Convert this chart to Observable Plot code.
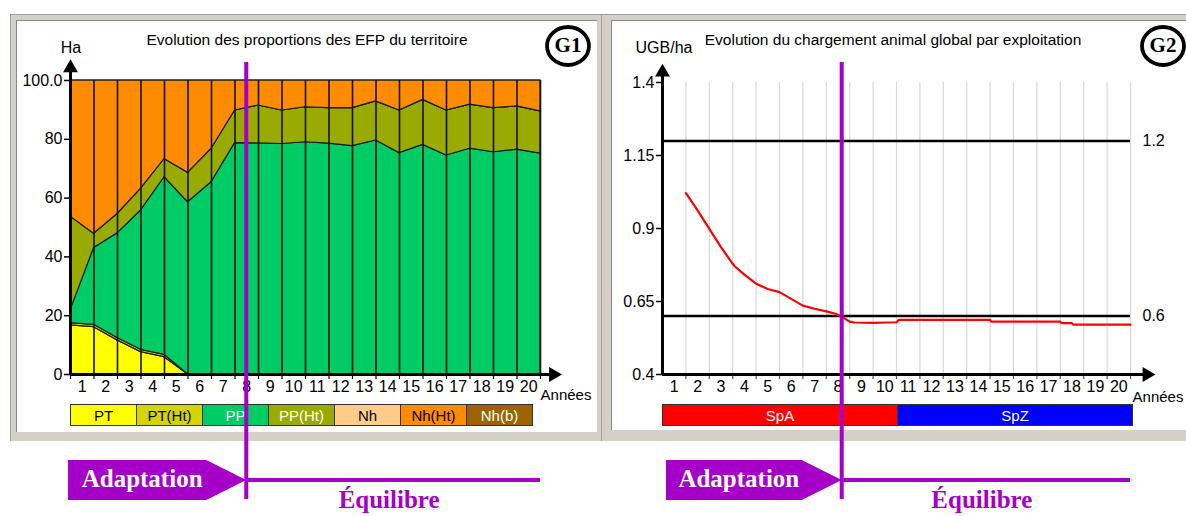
<!DOCTYPE html>
<html>
<head>
<meta charset="utf-8">
<script src="https://cdn.jsdelivr.net/npm/d3@7"></script>
<script src="https://cdn.jsdelivr.net/npm/@observablehq/plot@0.6"></script>
<style>
  body { margin: 0; background: #fff; font-family: "Liberation Sans", Arial, sans-serif; }
  #root { position: relative; width: 1186px; height: 516px; overflow: hidden; background: #fff; }
  .abs { position: absolute; }
  .frame { background: #d4d0c8; border-top: 1px solid #a0a0a0; border-left: 1px solid #a0a0a0; box-sizing: border-box; }
  .inner { background: #fff; border-top: 1px solid #888; border-left: 1px solid #888; box-sizing: border-box; }
  .lbl { position: absolute; white-space: nowrap; color: #000; transform: translate(-50%, -50%); }
  .leg { position: absolute; box-sizing: border-box; border: 1px solid #333; display: flex; align-items: center; justify-content: center; font-size: 15px; }
</style>
</head>
<body>
<div id="root"></div>
<script>
// ---------------- data ----------------
const steps = [0,1,2,3,4,5,6,7,8,9,10,11,12,13,14,15,16,17,18,19,20];
const yearLabels = [1,2,3,4,5,6,7,8,9,10,11,12,13,14,15,16,17,18,19,20];

// G1 : EFP proportions (Ha), one value per year boundary
const categories = ["PT","PT(Ht)","PP","PP(Ht)","Nh","Nh(Ht)","Nh(b)"];
const catColors  = ["#ffff00","#d4d400","#00cc66","#99aa00","#ffcc8a","#ff8c00","#9c6400"];
const catText    = ["#000","#000","#fff","#fff","#000","#000","#fff"];
const PT    = [16.7,16.1,11.6,7.6,5.9,0,0,0,0,0,0,0,0,0,0,0,0,0,0,0,0];
const PT_Ht = [0.8,0.8,0.8,0.8,0.8,0,0,0,0,0,0,0,0,0,0,0,0,0,0,0,0];
const PP    = [4.3,26.1,35.6,47.4,60.4,58.6,65.4,78.7,78.6,78.4,79.0,78.5,77.7,79.6,75.3,78.1,74.5,76.8,75.6,76.5,75.1];
const PP_Ht = [31.9,4.9,6.6,7.4,6.2,10.0,11.4,11.1,12.9,11.4,11.9,12.1,12.9,13.3,14.5,15.3,15.3,15.0,15.0,14.7,14.4];
const Nh    = [0,0,0,0,0,0,0,0,0,0,0,0,0,0,0,0,0,0,0,0,0];
const Nh_Ht = [46.3,52.1,45.4,36.8,26.7,31.4,23.2,10.2,8.5,10.2,9.1,9.4,9.4,7.1,10.2,6.6,10.2,8.2,9.4,8.8,10.5];
const Nh_b  = [0,0,0,0,0,0,0,0,0,0,0,0,0,0,0,0,0,0,0,0,0];
const yTicksG1 = [0,20,40,60,80,100];

// G2 : stocking rate (UGB/ha)
const chargeYears  = [1,1.5,2,2.5,3,3.1,3.5,4,4.5,5,5.5,6,6.5,7,7.4,7.7,8,8.2,9,9.6,10,10.1,14,14.05,17,17.05,17.5,17.55,20];
const chargeValues = [1.021,0.962,0.899,0.836,0.779,0.770,0.742,0.711,0.693,0.682,0.659,0.636,0.625,0.616,0.608,0.596,0.581,0.578,0.577,0.578,0.579,0.587,0.587,0.581,0.581,0.576,0.576,0.571,0.571];
const gridYears = [1,2,3,4,5,6,7,8,9,10,11,12,13,14,15,16,17,18,19,20];
const refLevels = [1.2, 0.6];
const yTicksG2 = [0.4,0.65,0.9,1.15,1.4];
const speciesNames  = ["SpA","SpZ"];
const speciesColors = ["#ff0000","#0000ff"];
const speciesFrom   = [0, 10.04];
const speciesTo     = [10.04, 20.1];

// phases
const phaseBoundaryG1 = 7.5;
const phaseBoundaryG2 = 7.68;
const phaseNames = ["Adaptation","Équilibre"];

// ---------------- layout ----------------
const root = document.getElementById("root");
function add(tag, cls, css, html) {
  const e = document.createElement(tag);
  if (cls) e.className = cls;
  Object.assign(e.style, css);
  if (html != null) e.textContent = html;
  root.appendChild(e);
  return e;
}
// panel frames
add("div","abs frame",{left:"10px",top:"14px",width:"592px",height:"427px"});
add("div","abs inner",{left:"16px",top:"20px",width:"581px",height:"412px"});
add("div","abs frame",{left:"601px",top:"14px",width:"600px",height:"427px"});
add("div","abs inner",{left:"611px",top:"20px",width:"590px",height:"410px"});

const font = "'Liberation Sans', Arial, sans-serif";
const FS = 16;
const baseStyle = {background:"transparent", overflow:"visible", fontSize:"16px", fontFamily: font, color:"#000"};

// ---------------- G1 ----------------
const series = [PT, PT_Ht, PP, PP_Ht, Nh, Nh_Ht, Nh_b];
const table = categories.flatMap((c, k) => steps.map((s, i) => ({step: s, cat: c, value: series[k][i]})));

const plot1 = Plot.plot({
  width: 600, height: 440,
  marginLeft: 70, marginRight: 60, marginTop: 80, marginBottom: 66,
  x: {domain: [0, 20], axis: null, label: null},
  y: {domain: [0, 100], axis: null, label: null},
  color: {domain: categories, range: catColors},
  style: baseStyle,
  marks: [
    Plot.areaY(table, {x: "step", y: "value", fill: "cat", z: "cat", order: categories, stroke: "#1e1e1e", strokeWidth: 1.2}),
    Plot.ruleX(steps, {y1: 0, y2: 100, stroke: "#111", strokeWidth: 1.6}),
    Plot.axisY({ticks: yTicksG1, tickFormat: d => d === 100 ? "100.0" : String(d), tickSize: 6, tickPadding: 2, strokeWidth: 1.5, fontSize: FS, label: null}),
    Plot.axisX({ticks: steps, tickSize: 5, tickFormat: () => "", strokeWidth: 1.2, label: null}),
    Plot.text(yearLabels, {x: d => d - 0.5, y: 0, dy: 12, text: d => String(d), fontSize: FS}),
    Plot.ruleY([0], {x1: 0, x2: 20.5, strokeWidth: 3}),
    Plot.ruleX([0], {y1: 0, y2: 104, strokeWidth: 3}),
    Plot.dot([0], {x: 0, y: 104.3, symbol: "triangle", r: 5.5, fill: "black", stroke: null}),
    Plot.dot([0], {x: 20.55, y: 0, symbol: "triangle", rotate: 90, r: 5.5, fill: "black", stroke: null})
  ]
});
Object.assign(plot1.style, {position: "absolute", left: "0px", top: "0px"});
root.appendChild(plot1);

// ---------------- G2 ----------------
const chargeData = chargeYears.map((t, i) => ({t, v: chargeValues[i]}));
const plot2 = Plot.plot({
  width: 584, height: 440,
  marginLeft: 60, marginRight: 56, marginTop: 82, marginBottom: 66,
  x: {domain: [0, 20], axis: null, label: null},
  y: {domain: [0.4, 1.4], axis: null, label: null},
  style: baseStyle,
  marks: [
    Plot.ruleX(gridYears, {y1: 0.4, y2: 1.4, stroke: "#d8d8d8", strokeWidth: 1.2}),
    Plot.ruleY(refLevels, {x1: 0, x2: 20, stroke: "#000", strokeWidth: 2.5}),
    Plot.text(refLevels, {x: 20, y: d => d, dx: 12, textAnchor: "start", text: d => String(d), fontSize: FS}),
    Plot.line(chargeData, {x: "t", y: "v", stroke: "#ff0000", strokeWidth: 2.2}),
    Plot.axisY({ticks: yTicksG2, tickFormat: d => String(d), tickSize: 6, tickPadding: 2, strokeWidth: 1.5, fontSize: FS, label: null}),
    Plot.axisX({ticks: gridYears, tickSize: 5, tickFormat: () => "", strokeWidth: 1.2, stroke: "#555", label: null}),
    Plot.text(yearLabels, {x: d => d - 0.5, y: 0.4, dy: 12, text: d => String(d), fontSize: FS}),
    Plot.ruleY([0.4], {x1: 0, x2: 20.6, strokeWidth: 3}),
    Plot.ruleX([0], {y1: 0.4, y2: 1.435, strokeWidth: 3}),
    Plot.dot([0], {x: 0, y: 1.435, symbol: "triangle", r: 5.5, fill: "black", stroke: null}),
    Plot.dot([0], {x: 20.7, y: 0.4, symbol: "triangle", rotate: 90, r: 5.5, fill: "black", stroke: null})
  ]
});
const off2 = 602;
Object.assign(plot2.style, {position: "absolute", left: off2 + "px", top: "0px"});
root.appendChild(plot2);

const x1 = plot1.scale("x"), x2 = plot2.scale("x");

// ---------------- texts ----------------
add("div","lbl",{left:"307px",top:"40px",fontSize:"15.5px"},"Evolution des proportions des EFP du territoire");
add("div","lbl",{left:"893px",top:"40px",fontSize:"15.5px"},"Evolution du chargement animal global par exploitation");
add("div","lbl",{left:"71px",top:"48px",fontSize:"16px"},"Ha");
add("div","lbl",{left:"664px",top:"48px",fontSize:"16px"},"UGB/ha");
add("div","lbl",{left:"566px",top:"394px",fontSize:"15px"},"Années");
add("div","lbl",{left:"1158px",top:"396px",fontSize:"15px"},"Années");

// ---------------- legends ----------------
categories.forEach((c, k) => {
  add("div","leg",{left:(70 + k*66)+"px", top:"404px", width:"67px", height:"22px", background: catColors[k], color: catText[k]}, c);
});
speciesNames.forEach((s, k) => {
  const a = off2 + x2.apply(speciesFrom[k]), b = off2 + x2.apply(speciesTo[k]);
  add("div","leg",{left: a+"px", top:"404px", width:(b-a+1)+"px", height:"22px", background: speciesColors[k], color:"#fff"}, s);
});

// ---------------- overlay: G badges and phase annotation ----------------
const purple = "#a600c8";
const svg = d3.select(root).append("svg")
  .attr("width", 1186).attr("height", 516)
  .style("position","absolute").style("left","0px").style("top","0px").style("pointer-events","none");

[["G1", 568, 46], ["G2", 1163, 46]].forEach(([t, cx, cy]) => {
  svg.append("ellipse").attr("cx", cx).attr("cy", cy).attr("rx", 21).attr("ry", 19)
    .attr("fill", "#fff").attr("stroke", "#000").attr("stroke-width", 3.8);
  svg.append("text").attr("x", cx).attr("y", cy + 1).attr("text-anchor", "middle").attr("dominant-baseline", "middle")
    .attr("font-family", "'Liberation Serif', 'Times New Roman', serif").attr("font-weight", "bold").attr("font-size", 21).text(t);
});

function phase(scale, off, boundary, shift) {
  const x0 = off + scale.apply(0) + shift;
  const xb = off + scale.apply(boundary);
  const xe = off + scale.apply(20);
  const yMid = 480, h = 20;
  svg.append("path")
    .attr("d", `M${x0},${yMid - h} L${xb - 40},${yMid - h} L${xb},${yMid} L${xb - 40},${yMid + h} L${x0},${yMid + h} Z`)
    .attr("fill", purple);
  svg.append("text").attr("x", (x0 + xb - 40) / 2 + 5).attr("y", yMid + 1)
    .attr("text-anchor", "middle").attr("dominant-baseline", "middle")
    .attr("font-family", "'Liberation Serif', 'Times New Roman', serif").attr("font-weight", "bold")
    .attr("font-size", 25).attr("fill", "#fff").text(phaseNames[0]);
  svg.append("line").attr("x1", xb).attr("x2", xb).attr("y1", 62).attr("y2", 499)
    .attr("stroke", purple).attr("stroke-width", 4);
  svg.append("line").attr("x1", xb).attr("x2", xe).attr("y1", yMid).attr("y2", yMid)
    .attr("stroke", purple).attr("stroke-width", 4);
  svg.append("text").attr("x", (xb + xe) / 2 - 4).attr("y", 502)
    .attr("text-anchor", "middle").attr("dominant-baseline", "middle")
    .attr("font-family", "'Liberation Serif', 'Times New Roman', serif").attr("font-weight", "bold")
    .attr("font-size", 25).attr("fill", purple).text(phaseNames[1]);
}
phase(x1, 0, phaseBoundaryG1, -2);
phase(x2, off2, phaseBoundaryG2, 4);
</script>
</body>
</html>
